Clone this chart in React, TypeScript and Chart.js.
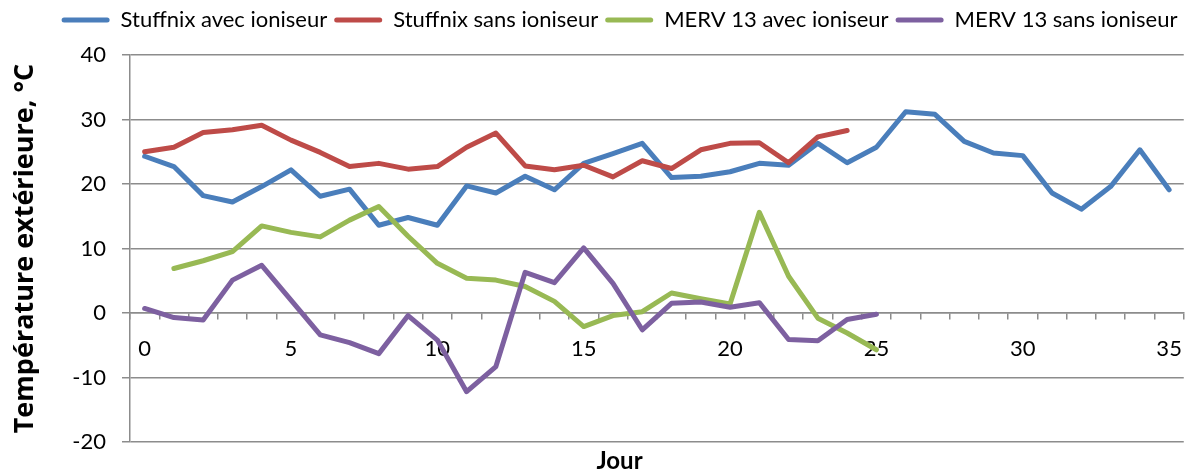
import React, { useEffect, useRef } from 'react';
import { Chart, registerables } from 'chart.js';
Chart.register(...registerables);

const days = ['0', '1', '2', '3', '4', '5', '6', '7', '8', '9', '10', '11', '12', '13', '14', '15', '16', '17', '18', '19', '20', '21', '22', '23', '24', '25', '26', '27', '28', '29', '30', '31', '32', '33', '34', '35'];

const stuffnixAvec = [24.3, 22.7, 18.2, 17.2, 19.6, 22.2, 18.1, 19.2, 13.6, 14.8, 13.6, 19.7, 18.6, 21.2, 19.1, 23.2, 24.7, 26.3, 21.0, 21.2, 21.9, 23.2, 22.9, 26.3, 23.3, 25.7, 31.2, 30.8, 26.6, 24.8, 24.4, 18.6, 16.1, 19.6, 25.3, 19.1];
const stuffnixSans = [25.0, 25.7, 28.0, 28.4, 29.1, 26.8, 24.9, 22.7, 23.2, 22.3, 22.7, 25.7, 27.9, 22.8, 22.2, 22.9, 21.1, 23.6, 22.4, 25.3, 26.3, 26.4, 23.3, 27.3, 28.3];
const mervAvec = [null, 6.9, 8.1, 9.5, 13.5, 12.5, 11.8, 14.4, 16.5, 11.9, 7.7, 5.4, 5.1, 4.1, 1.8, -2.1, -0.4, 0.2, 3.1, 2.2, 1.4, 15.6, 5.7, -0.8, -3.1, -5.7];
const mervSans = [0.7, -0.7, -1.1, 5.1, 7.4, 2.0, -3.4, -4.6, -6.3, -0.4, -4.2, -12.2, -8.3, 6.3, 4.7, 10.1, 4.6, -2.6, 1.5, 1.7, 0.9, 1.6, -4.1, -4.3, -1.0, -0.2];

const seriesNames = ['Stuffnix avec ioniseur', 'Stuffnix sans ioniseur', 'MERV 13 avec ioniseur', 'MERV 13 sans ioniseur'];
const seriesColors = ['#4a7ebb', '#be4b48', '#98b954', '#7d60a0'];

const yMin = -20;
const yMax = 40;
const yStep = 10;

export default function App() {
  const ref = useRef<HTMLCanvasElement>(null);
  useEffect(() => {
    const family = 'Lato, "Liberation Sans", sans-serif';
    const gridColor = '#8c8c8c';
    const series = [stuffnixAvec, stuffnixSans, mervAvec, mervSans];
    const legendGap = {
      id: 'legendGap',
      afterInit(c: any) {
        const lg = c.legend;
        if (!lg) return;
        const orig = lg.fit.bind(lg);
        lg.fit = () => {
          orig();
          lg.height += 14;
        };
      },
    };
    const chart = new Chart(ref.current!, {
      type: 'line',
      data: {
        labels: days,
        datasets: series.map((d, i) => ({
          label: seriesNames[i],
          data: d,
          borderColor: seriesColors[i],
          backgroundColor: seriesColors[i],
          borderWidth: 5,
          pointRadius: 0,
          tension: 0,
          fill: false,
          borderCapStyle: 'round',
          borderJoinStyle: 'round',
          order: 4 - i,
        })),
      },
      plugins: [legendGap],
      options: {
        animation: false,
        responsive: true,
        maintainAspectRatio: false,
        layout: { padding: { left: 48, right: 8, top: 2, bottom: 0 } },
        plugins: {
          legend: {
            position: 'top',
            labels: {
              font: { family, size: 22 },
              color: '#000',
              boxWidth: 48,
              boxHeight: 5,
              padding: 7,
              useBorderRadius: true,
              borderRadius: 2.5,
              sort: (a: any, b: any) => a.datasetIndex - b.datasetIndex,
              generateLabels: (c: any) =>
                Chart.defaults.plugins.legend.labels.generateLabels(c).map((it: any) => ({
                  ...it,
                  lineWidth: 0,
                  fillStyle: seriesColors[it.datasetIndex],
                })),
            },
          },
          title: {
            display: true,
            position: 'bottom',
            text: 'Jour',
            color: '#000',
            font: { family, size: 24, weight: 'bold', lineHeight: 1 },
            padding: { top: 7, bottom: 0 },
          },
          tooltip: { enabled: false },
        },
        scales: {
          x: {
            type: 'category',
            position: { y: 0 },
            offset: true,
            grid: {
              display: true,
              drawOnChartArea: false,
              drawTicks: true,
              tickLength: 6,
              offset: true,
              color: gridColor,
              lineWidth: 1.5,
            },
            border: { display: true, color: gridColor, width: 1.5 },
            ticks: {
              autoSkip: false,
              maxRotation: 0,
              padding: 17,
              color: '#000',
              font: { family, size: 22 },
              callback: function (this: any, value: any, index: number) {
                return index % 5 === 0 ? days[index] : '';
              },
            },
          },
          y: {
            type: 'linear',
            min: yMin,
            max: yMax,
            afterFit: (s: any) => {
              s.width = 82;
            },
            grid: { color: gridColor, lineWidth: 1.5, tickLength: 8 },
            border: { display: true, color: gridColor, width: 1.5 },
            ticks: {
              stepSize: yStep,
              padding: 16,
              color: '#000',
              font: { family, size: 22 },
            },
            title: {
              display: true,
              text: 'Température extérieure, °C',
              color: '#000',
              font: { family: '"Open Sans", Lato, sans-serif', size: 27, weight: 'bold' },
              padding: { top: -39, bottom: 0 },
            },
          },
        },
      },
    } as any);
    return () => chart.destroy();
  }, []);
  return (
    <div style={{ position: 'absolute', left: 0, top: 0, width: 1199, height: 473 }}>
      <canvas ref={ref} />
    </div>
  );
}
